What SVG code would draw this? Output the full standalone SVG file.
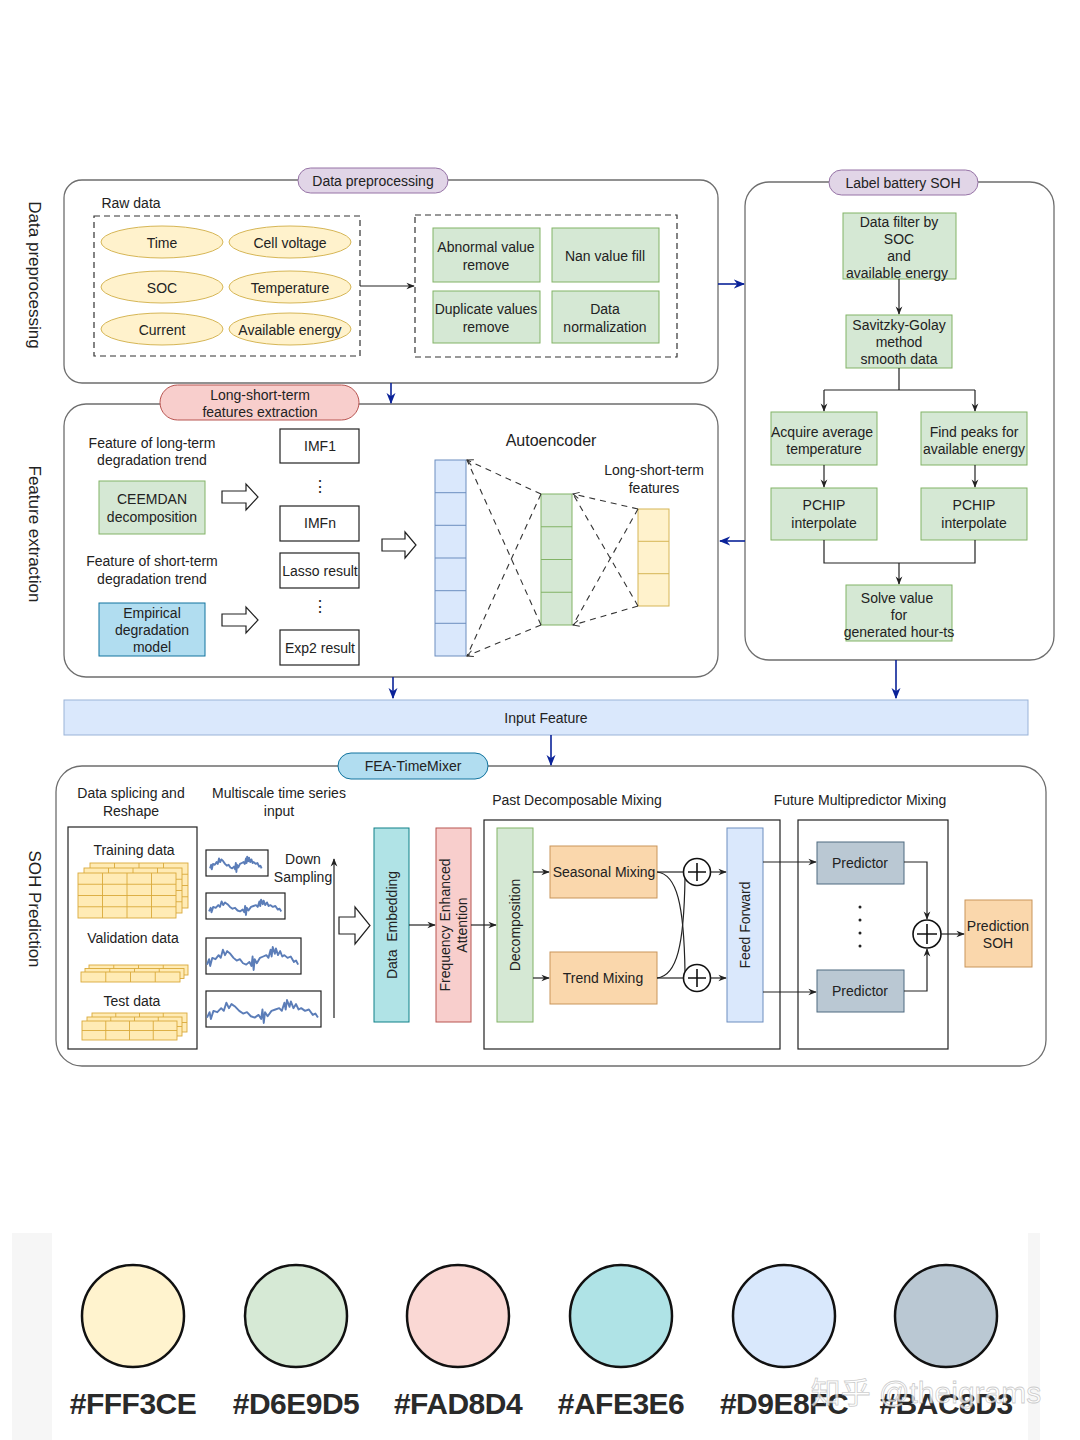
<svg xmlns="http://www.w3.org/2000/svg" width="1080" height="1440" viewBox="0 0 1080 1440">
<defs>
<style>
text{font-family:"Liberation Sans",Arial,sans-serif;font-size:14px;fill:#222;text-anchor:middle;dominant-baseline:central}
.side{font-size:17px}
.panel{fill:#fff;stroke:#6e6e6e;stroke-width:1.3}
.dash{fill:none;stroke:#333;stroke-width:1.2;stroke-dasharray:6 4}
.ell{fill:#FFF2CC;stroke:#D6B656;stroke-width:1}
.grn{fill:#D5E8D4;stroke:#82B366;stroke-width:1}
.wht{fill:#fff;stroke:#222;stroke-width:1.2}
.blu{fill:#DAE8FC;stroke:#6C8EBF;stroke-width:1}
.yel{fill:#FFF2CC;stroke:#D6B656;stroke-width:1}
.org{fill:#FAD7AC;stroke:#C9955A;stroke-width:1}
.gry{fill:#BAC8D3;stroke:#4E6A80;stroke-width:1}
.ln{fill:none;stroke:#222;stroke-width:1.2}
.bl{fill:none;stroke:#0A2299;stroke-width:1.6}
.hol{fill:#fff;stroke:#222;stroke-width:1.2}
.ae{fill:none;stroke:#333;stroke-width:1.1;stroke-dasharray:6 5}
.sig{fill:none;stroke:#5B7DB8;stroke-width:1.9;stroke-linejoin:round}
.tbl{fill:#FFEBB5;stroke:#D9A93A;stroke-width:0.9}
.pal{stroke:#111;stroke-width:2.5}
.hex{font-size:30px;font-weight:bold;fill:#2a2a2a;letter-spacing:-0.5px}
</style>
<marker id="ah" viewBox="0 0 10 10" refX="9" refY="5" markerWidth="7" markerHeight="7" orient="auto"><path d="M0,1 L10,5 L0,9 L3,5 Z" fill="#222"/></marker>
<marker id="bh" viewBox="0 0 10 10" refX="9" refY="5" markerWidth="7" markerHeight="7" orient="auto"><path d="M0,1 L10,5 L0,9 L3,5 Z" fill="#0A2299"/></marker>
<marker id="oh" viewBox="0 0 10 10" refX="9" refY="5" markerWidth="7" markerHeight="7" orient="auto"><path d="M1,1 L9,5 L1,9" fill="none" stroke="#333" stroke-width="1.3"/></marker>
<polyline id="sigp" points="0,16 2,12 3,17 5,11 8,12 11,9 13,11 15,5 17,9 19,6 22,8 25,11 28,13 31,12 34,15 37,16 40,14 42,17 43,10 44,20 45,12 47,15 50,11 53,10 56,9 58,11 60,5 61,10 62,3 64,8 65,4 67,9 69,6 71,10 73,9 76,11 79,10 82,14 84,13 86,16" class="sig" vector-effect="non-scaling-stroke"/>
</defs>
<rect width="1080" height="1440" fill="#fff"/>

<!-- side labels -->
<text class="side" transform="translate(34,275) rotate(90)">Data preprocessing</text>
<text class="side" transform="translate(34,534) rotate(90)">Feature extraction</text>
<text class="side" transform="translate(34,909) rotate(90)">SOH Prediction</text>

<!-- Panel 1 Data preprocessing -->
<g id="panel-preprocessing">
<rect class="panel" x="64" y="180" width="654" height="203" rx="18"/>
<rect x="298" y="168" width="150" height="25" rx="12.5" fill="#E1D5E7" stroke="#9673A6"/>
<text x="373" y="181">Data preprocessing</text>
<text x="131" y="203">Raw data</text>
<rect class="dash" x="94" y="216" width="266" height="140"/>
<rect class="dash" x="415" y="215" width="262" height="142"/>
</g>
<g id="raw-time"><ellipse class="ell" cx="162" cy="242" rx="61" ry="16"/><text x="162" y="243">Time</text></g>
<g id="raw-voltage"><ellipse class="ell" cx="290" cy="242" rx="61" ry="16"/><text x="290" y="243">Cell voltage</text></g>
<g id="raw-soc"><ellipse class="ell" cx="162" cy="287" rx="61" ry="16"/><text x="162" y="288">SOC</text></g>
<g id="raw-temp"><ellipse class="ell" cx="290" cy="287" rx="61" ry="16"/><text x="290" y="288">Temperature</text></g>
<g id="raw-current"><ellipse class="ell" cx="162" cy="329" rx="61" ry="16"/><text x="162" y="330">Current</text></g>
<g id="raw-energy"><ellipse class="ell" cx="290" cy="329" rx="61" ry="16"/><text x="290" y="330">Available energy</text></g>
<g id="abnormal"><rect class="grn" x="433" y="228" width="107" height="54"/><text x="486" y="247">Abnormal value</text><text x="486" y="265">remove</text></g>
<g id="nan"><rect class="grn" x="552" y="228" width="107" height="54"/><text x="605" y="256">Nan value fill</text></g>
<g id="duplicate"><rect class="grn" x="433" y="291" width="107" height="52"/><text x="486" y="309">Duplicate values</text><text x="486" y="327">remove</text></g>
<g id="normalization"><rect class="grn" x="552" y="291" width="107" height="52"/><text x="605" y="309">Data</text><text x="605" y="327">normalization</text></g>

<!-- Label battery SOH panel -->
<g id="panel-label">
<rect class="panel" x="745" y="182" width="309" height="478" rx="24"/>
<rect x="829" y="170" width="149" height="25" rx="12.5" fill="#E1D5E7" stroke="#9673A6"/>
<text x="903" y="183">Label battery SOH</text>
</g>
<g id="filter"><rect class="grn" x="843" y="213" width="113" height="66"/><text x="899" y="222">Data filter by</text><text x="899" y="239">SOC</text><text x="899" y="256">and</text><text x="897" y="273">available energy</text></g>
<g id="savitzky"><rect class="grn" x="846" y="315" width="106" height="53"/><text x="899" y="325">Savitzky-Golay</text><text x="899" y="342">method</text><text x="899" y="359">smooth data</text></g>
<g id="avgtemp"><rect class="grn" x="771" y="412" width="106" height="53"/><text x="822" y="432">Acquire average</text><text x="824" y="449">temperature</text></g>
<g id="peaks"><rect class="grn" x="921" y="412" width="106" height="53"/><text x="974" y="432">Find peaks for</text><text x="974" y="449">available energy</text></g>
<g id="pchip1"><rect class="grn" x="771" y="488" width="106" height="52"/><text x="824" y="505">PCHIP</text><text x="824" y="523">interpolate</text></g>
<g id="pchip2"><rect class="grn" x="921" y="488" width="106" height="52"/><text x="974" y="505">PCHIP</text><text x="974" y="523">interpolate</text></g>
<g id="solve"><rect class="grn" x="846" y="585" width="106" height="56"/><text x="897" y="598">Solve value</text><text x="899" y="615">for</text><text x="899" y="632">generated hour-ts</text></g>

<!-- Panel 2 Feature extraction -->
<g id="panel-feature">
<rect class="panel" x="64" y="404" width="654" height="273" rx="22"/>
<rect x="160" y="385" width="199" height="35" rx="17.5" fill="#F8CECC" stroke="#B85450"/>
<text x="260" y="395">Long-short-term</text><text x="260" y="412">features extraction</text>
<text x="152" y="443">Feature of long-term</text><text x="152" y="460">degradation trend</text>
<text x="152" y="561">Feature of short-term</text><text x="152" y="579">degradation trend</text>
<text x="551" y="440" style="font-size:16px">Autoencoder</text>
<text x="654" y="470">Long-short-term</text><text x="654" y="488">features</text>
<text x="320" y="486" style="font-size:16px">⋮</text>
<text x="320" y="606" style="font-size:16px">⋮</text>
<polygon class="hol" points="222,491 246,491 246,484 258,497 246,510 246,503 222,503"/>
<polygon class="hol" points="222,614 246,614 246,607 258,620 246,633 246,626 222,626"/>
<polygon class="hol" points="382,539 405,539 405,532 416,545 405,558 405,551 382,551"/>
</g>
<g id="ceemdan"><rect class="grn" x="99" y="481" width="106" height="53"/><text x="152" y="499">CEEMDAN</text><text x="152" y="517">decomposition</text></g>
<g id="empirical"><rect x="99" y="603" width="106" height="53" fill="#B1DDF0" stroke="#10739E"/><text x="152" y="613">Empirical</text><text x="152" y="630">degradation</text><text x="152" y="647">model</text></g>
<g id="imf1"><rect class="wht" x="280" y="429" width="79" height="34"/><text x="320" y="446">IMF1</text></g>
<g id="imfn"><rect class="wht" x="280" y="506" width="79" height="35"/><text x="320" y="523">IMFn</text></g>
<g id="lasso"><rect class="wht" x="280" y="553" width="79" height="35"/><text x="320" y="571">Lasso result</text></g>
<g id="exp2"><rect class="wht" x="280" y="630" width="79" height="35"/><text x="320" y="648">Exp2 result</text></g>
<g id="ae-input">
<rect class="blu" x="435" y="460" width="31" height="196"/>
<path class="ln" style="stroke:#6C8EBF;stroke-width:1" d="M435,492.7h31M435,525.3h31M435,558h31M435,590.7h31M435,623.3h31"/>
</g>
<g id="ae-hidden">
<rect class="grn" x="541" y="494" width="31" height="131"/>
<path class="ln" style="stroke:#82B366;stroke-width:1" d="M541,526.75h31M541,559.5h31M541,592.25h31"/>
</g>
<g id="ae-code">
<rect class="yel" x="638" y="509" width="31" height="97"/>
<path class="ln" style="stroke:#D6B656;stroke-width:1" d="M638,541.3h31M638,573.7h31"/>
</g>

<!-- Input Feature -->
<g id="input-feature"><rect x="64" y="700" width="964" height="35" fill="#DAE8FC" stroke="#9AB3D8"/><text x="546" y="718">Input Feature</text></g>

<!-- Panel 3 SOH Prediction -->
<g id="panel-soh">
<rect class="panel" x="56" y="766" width="990" height="300" rx="26"/>
<rect x="338" y="753" width="150" height="26" rx="13" fill="#B1DDF0" stroke="#10739E"/>
<text x="413" y="766">FEA-TimeMixer</text>
<text x="131" y="793">Data splicing and</text><text x="131" y="811">Reshape</text>
<text x="279" y="793">Multiscale time series</text><text x="279" y="811">input</text>
<text x="577" y="800">Past Decomposable Mixing</text>
<text x="860" y="800">Future Multipredictor Mixing</text>
<rect class="wht" x="484" y="820" width="296" height="229"/>
<rect class="wht" x="798" y="820" width="150" height="229"/>
</g>
<g id="datasets">
<rect class="wht" x="68" y="827" width="129" height="222"/>
<text x="134" y="850">Training data</text>
<text x="133" y="938">Validation data</text>
<text x="132" y="1001">Test data</text>
<g id="train-tbl">
<rect class="tbl" x="90" y="863" width="98" height="45"/><path class="tbl" d="M90,874.25h98M90,885.5h98M90,896.75h98M114.5,863v45M139,863v45M163.5,863v45"/>
<rect class="tbl" x="84" y="868" width="98" height="45"/><path class="tbl" d="M84,879.25h98M84,890.5h98M84,901.75h98M108.5,868v45M133,868v45M157.5,868v45"/>
<rect class="tbl" x="78" y="873" width="98" height="45"/><path class="tbl" d="M78,884.25h98M78,895.5h98M78,906.75h98M102.5,873v45M127,873v45M151.5,873v45"/>
</g>
<g id="val-tbl">
<rect class="tbl" x="89" y="965" width="99" height="10"/><path class="tbl" d="M113.75,965v10M138.5,965v10M163.25,965v10"/>
<rect class="tbl" x="85" y="968.5" width="99" height="10"/><path class="tbl" d="M109.75,968.5v10M134.5,968.5v10M159.25,968.5v10"/>
<rect class="tbl" x="81" y="972" width="99" height="10"/><path class="tbl" d="M105.75,972v10M130.5,972v10M155.25,972v10"/>
</g>
<g id="test-tbl">
<rect class="tbl" x="92" y="1013" width="95" height="19"/><path class="tbl" d="M92,1022.5h95M115.75,1013v19M139.5,1013v19M163.25,1013v19"/>
<rect class="tbl" x="87" y="1017" width="95" height="19"/><path class="tbl" d="M87,1026.5h95M110.75,1017v19M134.5,1017v19M158.25,1017v19"/>
<rect class="tbl" x="82" y="1021" width="95" height="19"/><path class="tbl" d="M82,1030.5h95M105.75,1021v19M129.5,1021v19M153.25,1021v19"/>
</g>
</g>
<g id="multiscale">
<rect class="wht" x="206" y="850" width="62" height="26"/>
<use href="#sigp" transform="translate(210,854) scale(0.6,0.9)"/>
<rect class="wht" x="206" y="893" width="79" height="26"/>
<use href="#sigp" transform="translate(209,897) scale(0.84,0.9)"/>
<rect class="wht" x="206" y="938" width="95" height="36"/>
<use href="#sigp" transform="translate(207,943) scale(1.06,1.35)"/>
<rect class="wht" x="206" y="991" width="115" height="36"/>
<use href="#sigp" transform="translate(207,996) scale(1.29,1.35)"/>
<text x="303" y="859">Down</text><text x="303" y="877">Sampling</text>
<polygon class="hol" points="339,917 355,917 355,907 370,925.5 355,944 355,934 339,934"/>
</g>
<g id="embedding"><rect x="374" y="828" width="35" height="194" fill="#B0E3E6" stroke="#0E8088"/><text transform="translate(392,925) rotate(-90)" style="white-space:pre">Data  Embedding</text></g>
<g id="fea"><rect x="436" y="828" width="35" height="194" fill="#F8CECC" stroke="#B85450"/><text transform="translate(453,925) rotate(-90)"><tspan x="0" y="-8">Frequency Enhanced</tspan><tspan x="0" y="9">Attention</tspan></text></g>
<g id="decomposition"><rect class="grn" x="497" y="828" width="36" height="194"/><text transform="translate(515,925) rotate(-90)">Decomposition</text></g>
<g id="seasonal"><rect class="org" x="550" y="846" width="107" height="52"/><text x="604" y="872">Seasonal Mixing</text></g>
<g id="trend"><rect class="org" x="550" y="952" width="107" height="52"/><text x="603" y="978">Trend Mixing</text></g>
<g id="plus1"><circle cx="697" cy="872" r="13.5" fill="#fff" stroke="#111" stroke-width="1.6"/><path d="M688,872h18M697,863v18" stroke="#111" stroke-width="1.6"/></g>
<g id="plus2"><circle cx="697" cy="978" r="13.5" fill="#fff" stroke="#111" stroke-width="1.6"/><path d="M688,978h18M697,969v18" stroke="#111" stroke-width="1.6"/></g>
<g id="feedforward"><rect class="blu" x="727" y="828" width="36" height="194"/><text transform="translate(745,925) rotate(-90)">Feed Forward</text></g>
<g id="predictor1"><rect class="gry" x="817" y="842" width="87" height="42"/><text x="860" y="863">Predictor</text></g>
<g id="predictor2"><rect class="gry" x="817" y="970" width="87" height="42"/><text x="860" y="991">Predictor</text></g>
<g id="vdots"><circle cx="860" cy="907" r="1.5" fill="#222"/><circle cx="860" cy="920" r="1.5" fill="#222"/><circle cx="860" cy="933" r="1.5" fill="#222"/><circle cx="860" cy="946" r="1.5" fill="#222"/></g>
<g id="plus3"><circle cx="927" cy="934" r="14" fill="#fff" stroke="#111" stroke-width="1.6"/><path d="M917,934h20M927,924v20" stroke="#111" stroke-width="1.6"/></g>
<g id="prediction-soh"><rect class="org" x="965" y="900" width="67" height="67"/><text x="998" y="926">Prediction</text><text x="998" y="943">SOH</text></g>

<!-- connectors -->
<g id="connectors">
<path class="ln" d="M360,286H414" marker-end="url(#ah)"/>
<path class="bl" d="M718,284H744" marker-end="url(#bh)"/>
<path class="bl" d="M391,383V403" marker-end="url(#bh)"/>
<path class="bl" d="M745,541H720" marker-end="url(#bh)"/>
<path class="bl" d="M393,677V698" marker-end="url(#bh)"/>
<path class="bl" d="M896,660V698" marker-end="url(#bh)"/>
<path class="bl" d="M551,735V765" marker-end="url(#bh)"/>
<path class="ln" d="M899,279V314" marker-end="url(#ah)"/>
<path class="ln" d="M899,368V390M824,390H975"/>
<path class="ln" d="M824,390V411" marker-end="url(#ah)"/>
<path class="ln" d="M975,390V411" marker-end="url(#ah)"/>
<path class="ln" d="M824,465V487" marker-end="url(#ah)"/>
<path class="ln" d="M975,465V487" marker-end="url(#ah)"/>
<path class="ln" d="M824,540V563H975V540M899,563V584" marker-end="url(#ah)"/>
<path class="ae" d="M541,494L467,460" marker-end="url(#oh)"/>
<path class="ae" d="M541,625L467,460"/>
<path class="ae" d="M541,494L467,656"/>
<path class="ae" d="M541,625L467,656" marker-end="url(#oh)"/>
<path class="ae" d="M638,509L573,494" marker-end="url(#oh)"/>
<path class="ae" d="M638,606L573,494"/>
<path class="ae" d="M638,509L573,625"/>
<path class="ae" d="M638,606L573,625" marker-end="url(#oh)"/>
<path class="ln" d="M334,1018V859" marker-end="url(#ah)"/>
<path class="ln" d="M409,925H435" marker-end="url(#ah)"/>
<path class="ln" d="M471,925H496" marker-end="url(#ah)"/>
<path class="ln" d="M533,872H549" marker-end="url(#ah)"/>
<path class="ln" d="M533,978H549" marker-end="url(#ah)"/>
<path class="ln" d="M657,872H683.5"/>
<path class="ln" d="M657,978H683.5"/>
<path class="ln" d="M657,872C677,874 684,905 685,972"/>
<path class="ln" d="M657,978C677,976 684,945 685,878"/>
<path class="ln" d="M710.5,872H726" marker-end="url(#ah)"/>
<path class="ln" d="M710.5,978H726" marker-end="url(#ah)"/>
<path class="ln" d="M763,862H816" marker-end="url(#ah)"/>
<path class="ln" d="M763,992H816" marker-end="url(#ah)"/>
<path class="ln" d="M904,862H927V919" marker-end="url(#ah)"/>
<path class="ln" d="M904,991H927V949" marker-end="url(#ah)"/>
<path class="ln" d="M941,934H964" marker-end="url(#ah)"/>
</g>

<!-- palette -->
<g id="palette">
<rect x="12" y="1233" width="1028" height="207" fill="#F6F6F6"/>
<rect x="52" y="1233" width="976" height="207" fill="#fff"/>
<circle class="pal" cx="133" cy="1316" r="51" fill="#FFF3CE"/>
<circle class="pal" cx="296" cy="1316" r="51" fill="#D6E9D5"/>
<circle class="pal" cx="458" cy="1316" r="51" fill="#FAD8D4"/>
<circle class="pal" cx="621" cy="1316" r="51" fill="#AFE3E6"/>
<circle class="pal" cx="784" cy="1316" r="51" fill="#D9E8FC"/>
<circle class="pal" cx="946" cy="1316" r="51" fill="#BAC8D3"/>
<text class="hex" x="133" y="1403">#FFF3CE</text>
<text class="hex" x="296" y="1403">#D6E9D5</text>
<text class="hex" x="458" y="1403">#FAD8D4</text>
<text class="hex" x="621" y="1403">#AFE3E6</text>
<text class="hex" x="784" y="1403">#D9E8FC</text>
<text class="hex" x="946" y="1403">#BAC8D3</text>
<text x="926" y="1392" style="font-family:'Liberation Sans','Noto Sans CJK SC',sans-serif;font-size:30px;fill:#ffffff;fill-opacity:0.75;stroke:#999;stroke-opacity:0.5;stroke-width:0.8">知乎 @theigrams</text>
</g>
</svg>
